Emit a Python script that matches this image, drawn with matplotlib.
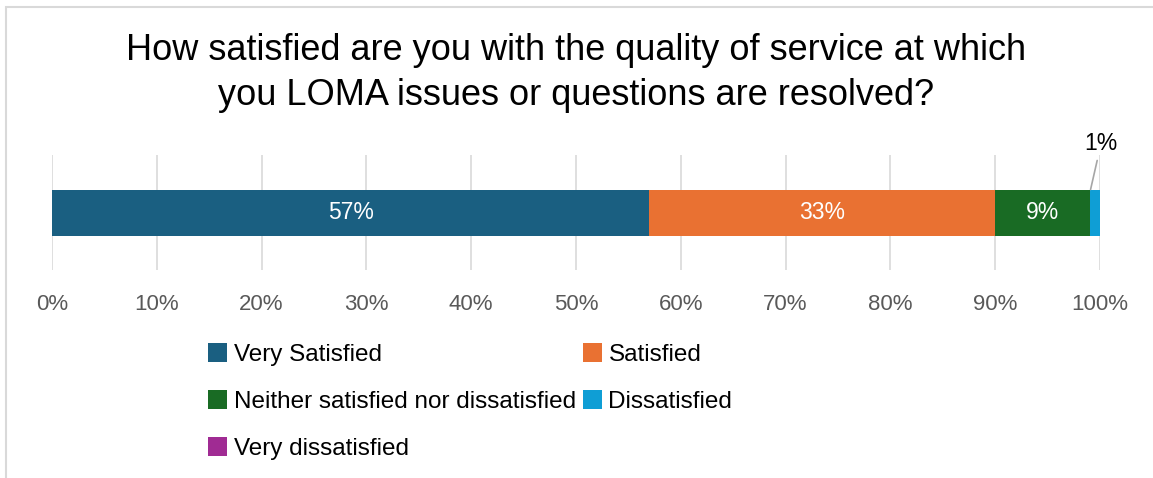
import matplotlib.pyplot as plt
from matplotlib.patches import Rectangle, Patch

# data
categories = ["Very Satisfied", "Satisfied", "Neither satisfied nor dissatisfied",
              "Dissatisfied", "Very dissatisfied"]
values = [57, 33, 9, 1, 0]
colors = ["#1a5f81", "#e97132", "#196b24", "#0f9ed5", "#a02b93"]
ticks = [0, 10, 20, 30, 40, 50, 60, 70, 80, 90, 100]
title = "How satisfied are you with the quality of service at which\nyou LOMA issues or questions are resolved?"

W, H = 1153, 478
fig = plt.figure(figsize=(W / 100, H / 100), dpi=100)
plt.rcParams['font.family'] = ['Liberation Sans', 'DejaVu Sans']

# outer chart border (only top and left visible in the crop)
fig.patches.append(Rectangle((6 / W, -0.1), 1.2, 1 - 7 / H + 0.1, transform=fig.transFigure,
                             fill=False, edgecolor='#d9d9d9', linewidth=1.5))

# axes: 0% at x=52, 100% at x=1100; gridlines from y=155 to y=270
ax = fig.add_axes([52 / W, 1 - 270 / H, (1100 - 52) / W, (270 - 155) / H])
ax.set_xlim(0, 100)
ax.set_ylim(-1, 1)

left = 0
for cat, v, c in zip(categories, values, colors):
    ax.barh(0, v, left=left, height=0.8, color=c, edgecolor='none', zorder=3)
    if v >= 5:
        ax.text(left + v / 2, 0, f"{v}%", ha='center', va='center', color='white',
                fontsize=16.5, zorder=4)
    elif v > 0:
        ax.annotate(f"{v}%", xy=(left + v / 2 - 0.4, 0.4), xytext=(left + v / 2 + 0.6, 1.0),
                    textcoords='data', ha='center', va='bottom', fontsize=16.5, color='#000000',
                    annotation_clip=False,
                    arrowprops=dict(arrowstyle='-', color='#a6a6a6', lw=1.2, shrinkA=2, shrinkB=0))
    left += v

ax.set_xticks(ticks)
ax.set_xticklabels([f"{t}%" for t in ticks], fontsize=16, color='#595959')
ax.tick_params(axis='x', length=0, pad=17)
ax.set_yticks([])
ax.grid(axis='x', color='#d9d9d9', linewidth=1.2, zorder=0)
for s in ax.spines.values():
    s.set_visible(False)

fig.text(0.5, 1 - 33 / H, title, ha='center', va='top', fontsize=26, color='#000000',
         linespacing=1.38)

# legend rows read left-to-right, matplotlib fills column-major
handles = [Patch(facecolor=c, edgecolor='none') for c in colors]
order = [0, 2, 4, 1, 3]
fig.legend([handles[i] for i in order], [categories[i] for i in order], loc='upper left',
           bbox_to_anchor=(208 / W, 1 - 343 / H), ncol=2, frameon=False, fontsize=17.5,
           handlelength=0.8, handleheight=0.8, handletextpad=0.25, columnspacing=0.3,
           labelspacing=1.0, borderaxespad=0, borderpad=0)

fig.savefig("out.png", dpi=100, facecolor='white')
